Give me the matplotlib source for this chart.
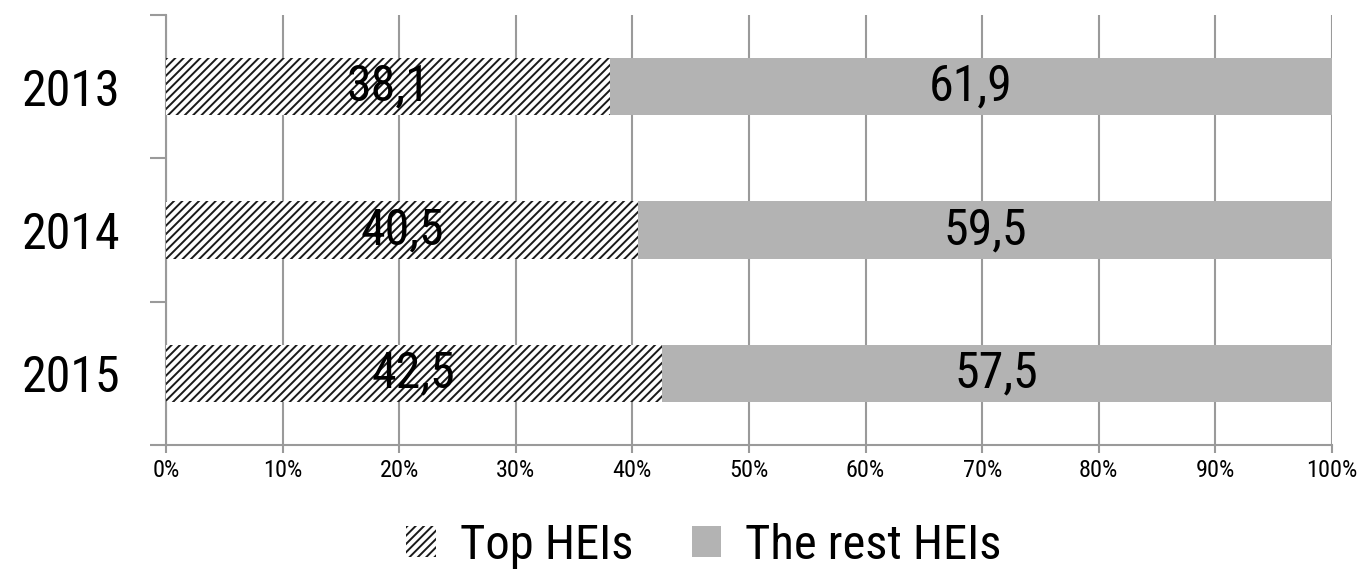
import matplotlib
matplotlib.use("Agg")
import matplotlib.pyplot as plt
from matplotlib import font_manager
import numpy as np

years = ["2013", "2014", "2015"]
top_heis = [38.1, 40.5, 42.5]
rest_heis = [61.9, 59.5, 57.5]
series_names = ["Top HEIs", "The rest HEIs"]
xtick_labels = ["0%", "10%", "20%", "30%", "40%", "50%", "60%", "70%", "80%", "90%", "100%"]

available = {f.name for f in font_manager.fontManager.ttflist}
family = ["Roboto Condensed", "Archivo Narrow", "Liberation Sans", "DejaVu Sans"]
family = [f for f in family if f in available] or ["DejaVu Sans"]
plt.rcParams["font.family"] = family
plt.rcParams["hatch.linewidth"] = 1.4
plt.rcParams["hatch.color"] = "#1a1a1a"

W, H = 1362, 570
fig = plt.figure(figsize=(W / 100, H / 100), dpi=100)
ax = fig.add_axes([166 / W, 1 - 445 / H, (1332 - 166) / W, (445 - 15) / H])

grid_col = "#9a9a9a"
rest_col = "#b3b3b3"
px = 72 / 100  # points per pixel

y = np.arange(len(years))
bar_h = 0.40
b1 = ax.barh(y, top_heis, height=bar_h, color="white", edgecolor="#1a1a1a",
             linewidth=0, hatch="////", zorder=3, label=series_names[0])
b2 = ax.barh(y, rest_heis, left=top_heis, height=bar_h, color=rest_col,
             linewidth=0, zorder=3, label=series_names[1])

for yi, a, b in zip(y, top_heis, rest_heis):
    ax.text(a / 2, yi, f"{a:.1f}".replace(".", ","), ha="center", va="center",
            fontsize=36, color="black", zorder=5)
    ax.text(a + b / 2, yi, f"{b:.1f}".replace(".", ","), ha="center", va="center",
            fontsize=36, color="black", zorder=5)

ax.set_xlim(0, 100)
ax.set_ylim(len(years) - 0.5, -0.5)
ax.set_xticks(np.arange(0, 101, 10))
ax.set_xticklabels(xtick_labels, fontsize=17.5)
ax.set_yticks(y)
ax.set_yticklabels(years, fontsize=36)
ax.set_yticks(np.arange(-0.5, len(years), 1.0), minor=True)

ax.xaxis.grid(True, color=grid_col, linewidth=1.5, zorder=0)
ax.set_axisbelow(True)

for s in ["top", "right"]:
    ax.spines[s].set_visible(False)
for s in ["left", "bottom"]:
    ax.spines[s].set_color(grid_col)
    ax.spines[s].set_linewidth(1.5)

ax.tick_params(axis="x", length=8 * px, width=1.5, color=grid_col, pad=6 * px)
ax.tick_params(axis="y", which="major", length=0, pad=46 * px)
ax.tick_params(axis="y", which="minor", length=16 * px, width=1.5, color=grid_col)

fig.legend(handles=[b1, b2], labels=series_names, loc="center",
           bbox_to_anchor=(704 / W, 1 - 546 / H), ncol=2, frameon=False,
           fontsize=35, handlelength=0.6, handleheight=0.6, handletextpad=0.5,
           columnspacing=1.2, borderpad=0)

fig.savefig("out.png", dpi=100, facecolor="white")
